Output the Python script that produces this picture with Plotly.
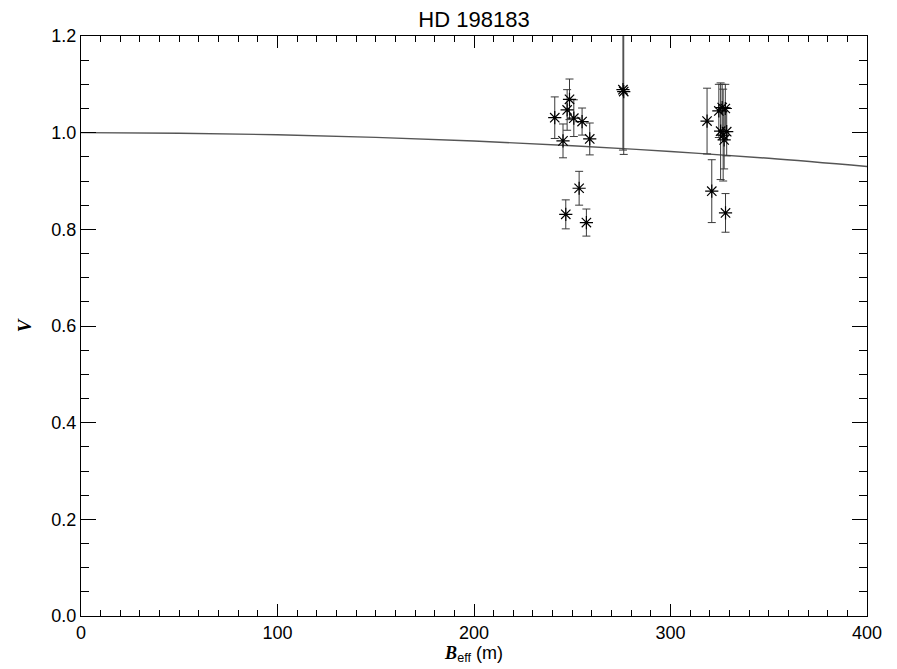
import plotly.graph_objects as go

# Measured visibilities
baseline = [241.1, 245.3, 246.7, 247.4, 248.6, 250.8, 253.5, 255.0, 257.2, 258.9,
            275.8, 276.2,
            318.6, 321.0, 324.6, 325.5, 326.3, 326.8, 327.3, 327.9, 328.0, 328.6]
vis = [1.031, 0.983, 0.831, 1.047, 1.069, 1.030, 0.885, 1.023, 0.814, 0.987,
       1.089, 1.085,
       1.024, 0.879, 1.045, 1.003, 1.052, 0.995, 0.985, 1.050, 0.834, 1.002]
vis_err = [0.043, 0.035, 0.030, 0.042, 0.042, 0.038, 0.035, 0.028, 0.028, 0.033,
           0.125, 0.130,
           0.068, 0.065, 0.055, 0.100, 0.048, 0.095, 0.060, 0.050, 0.040, 0.050]

# Model curve
model_b = [0, 50, 100, 150, 200, 250, 300, 350, 400]
model_v = [1.000, 0.9989, 0.9957, 0.9903, 0.9827, 0.973, 0.961, 0.947, 0.930]

x_ticks = [0, 100, 200, 300, 400]
y_ticks = [0.0, 0.2, 0.4, 0.6, 0.8, 1.0, 1.2]

fig = go.Figure()
fig.add_trace(go.Scatter(
    x=model_b, y=model_v, mode="lines", line_shape="spline",
    line=dict(color="#555555", width=1.4), hoverinfo="skip", showlegend=False))
fig.add_trace(go.Scatter(
    x=baseline, y=vis, mode="markers",
    marker=dict(symbol="asterisk-open", size=11, color="black",
                line=dict(color="black", width=1.2)),
    error_y=dict(type="data", array=vis_err, visible=True,
                 color="#3a3a3a", thickness=1, width=4),
    showlegend=False))

font_sans = "Liberation Sans, Arial, Helvetica, sans-serif"
fig.update_layout(
    width=897, height=669,
    margin=dict(l=73, r=38, t=28, b=61, autoexpand=False),
    paper_bgcolor="white", plot_bgcolor="white",
    font=dict(family=font_sans, size=18, color="black"),
    title=dict(text="HD 198183", x=0.5, xanchor="center", xref="paper",
               yref="container", y=0.994, yanchor="top", pad=dict(t=0),
               font=dict(family=font_sans, size=22, color="black")),
    xaxis=dict(range=[0, 400], tickvals=x_ticks, ticktext=[str(v) for v in x_ticks],
               showgrid=False, zeroline=False, showline=True, linecolor="black",
               linewidth=1, mirror="allticks", ticks="inside", ticklen=12,
               tickcolor="black", tickwidth=1, tickfont=dict(size=18),
               minor=dict(dtick=10, ticks="inside", ticklen=6, tickcolor="black",
                          tickwidth=1, showgrid=False),
               title=dict(text="<span style='font-family:Liberation Serif'><b><i>B</i></b></span>"
                               "<sub>eff</sub> (m)",
                          standoff=4, font=dict(family=font_sans, size=18))),
    yaxis=dict(range=[0, 1.2], tickvals=y_ticks, ticktext=[f"{v:.1f}" for v in y_ticks],
               showgrid=False, zeroline=False, showline=True, linecolor="black",
               linewidth=1, mirror="allticks", ticks="inside", ticklen=15,
               tickcolor="black", tickwidth=1, tickfont=dict(size=18),
               minor=dict(dtick=0.05, ticks="inside", ticklen=8, tickcolor="black",
                          tickwidth=1, showgrid=False),
               title=dict(text="<b><i>V</i></b>", standoff=14,
                          font=dict(family="Liberation Serif, DejaVu Serif, serif", size=19))),
)

fig.write_html("out.html")
